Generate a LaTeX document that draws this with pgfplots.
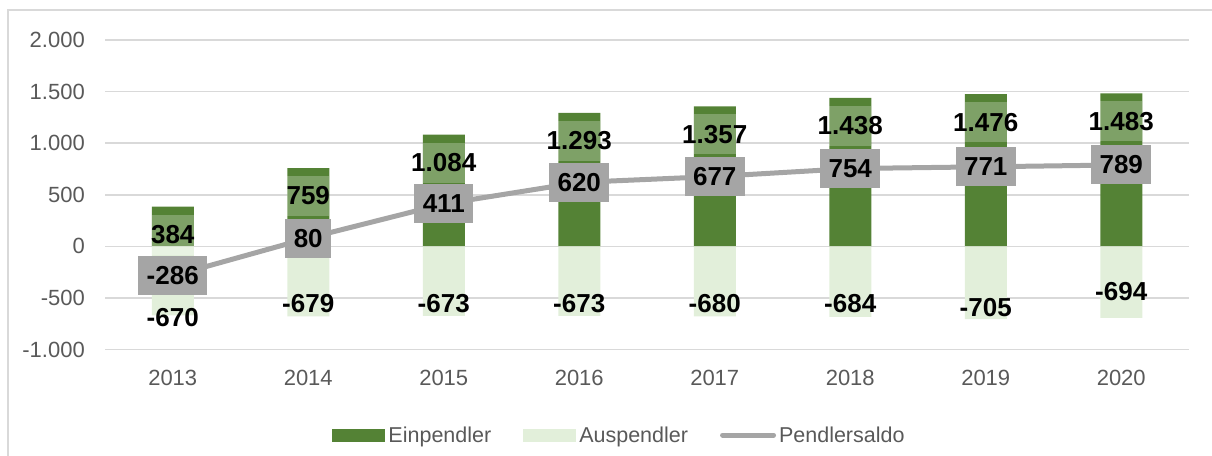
\documentclass[border=0pt]{standalone}
\usepackage{fontspec}
\setmainfont{Liberation Sans}
\usepackage{pgfplots}
\usepackage{pgfplotstable}
\pgfplotsset{compat=1.18}
\definecolor{eingreen}{HTML}{548235}
\definecolor{ausgreen}{HTML}{E2EFDA}
\definecolor{saldogray}{HTML}{A5A5A5}
\definecolor{gridgray}{HTML}{D9D9D9}
\definecolor{tickgray}{HTML}{595959}
\newcommand{\labelfont}{\fontsize{26}{28}\selectfont\bfseries}
\newcommand{\tickfont}{\fontsize{22}{24}\selectfont}
\newcommand{\legfont}{\fontsize{21.5}{23}\selectfont}
\pgfplotstableread{
x ein einlab aus auslab ausdy saldo
0 384 384 -670 -670 -2 -286
1 759 759 -679 -679 13 80
2 1084 1.084 -673 -673 12.5 411
3 1293 1.293 -673 -673 12 620
4 1357 1.357 -680 -680 13 677
5 1438 1.438 -684 -684 13 754
6 1476 1.476 -705 -705 12 771
7 1483 1.483 -694 -694 26 789
}\data
\begin{document}
\begin{tikzpicture}
\path[use as bounding box] (0pt,0pt) rectangle (1212pt,-455pt);
\draw[gridgray, line width=1.5pt] (8pt,-470pt) -- (8pt,-10pt) -- (1230pt,-10pt);
\begin{axis}[
  at={(105pt,-349.5pt)}, anchor=south west,
  scale only axis, width=1084pt, height=309.5pt,
  xmin=-0.5, xmax=7.5, ymin=-1000, ymax=2000,
  clip=false,
  axis line style={draw=none},
  tick style={draw=none},
  major tick length=0pt,
  ymajorgrids, grid style={gridgray, line width=1.5pt},
  xtick={0,...,7},
  xticklabels={2013,2014,2015,2016,2017,2018,2019,2020},
  ytick={-1000,-500,0,500,1000,1500,2000},
  yticklabels={-1.000,-500,0,500,1.000,1.500,2.000},
  xticklabel style={font=\tickfont, text=tickgray, anchor=north, inner sep=0pt, yshift=-20pt},
  yticklabel style={font=\tickfont, text=tickgray, anchor=east, inner sep=0pt, xshift=-20pt},
  legend columns=3,
  legend style={at={(0.4742,-0.2763)}, anchor=center, draw=none, fill=none,
    font=\legfont, text=tickgray,
    nodes={inner sep=1pt},
    /tikz/every odd column/.append style={column sep=2pt},
    /tikz/every even column/.append style={column sep=31pt}},
]
\addplot[ybar, bar width=42pt, bar shift=0pt, fill=eingreen, draw=none,
  legend image code/.code={\fill[eingreen] (0pt,-6.5pt) rectangle (53pt,6.5pt);},
  nodes near coords={\makebox[42pt]{\pgfplotspointmeta}},
  point meta=explicit symbolic,
  every node near coord/.style={anchor=center, yshift=-28pt, inner xsep=0pt, inner ysep=0pt,
    minimum height=40pt, fill=white, fill opacity=0.25, text opacity=1, font=\labelfont, text=black}]
  table[x=x, y=ein, meta=einlab] {\data};
\addlegendentry{Einpendler}
\addplot[ybar, bar width=42pt, bar shift=0pt, fill=ausgreen, draw=none,
  legend image code/.code={\fill[ausgreen] (0pt,-6.5pt) rectangle (53pt,6.5pt);},
  visualization depends on={\thisrow{ausdy} \as \ady},
  nodes near coords,
  point meta=explicit symbolic,
  every node near coord/.style={anchor=center, yshift=\ady, inner sep=0pt, font=\labelfont, text=black}]
  table[x=x, y=aus, meta=auslab] {\data};
\addlegendentry{Auspendler}
\addplot[saldogray, line width=5pt, line join=round, mark=none,
  legend image code/.code={\draw[saldogray, line width=5pt, line cap=round] (2.5pt,0pt) -- (53.5pt,0pt);},
  nodes near coords,
  point meta=explicit symbolic,
  every node near coord/.style={anchor=center, fill=saldogray, inner xsep=8.5pt, inner ysep=0pt,
    minimum height=39pt, font=\labelfont, text=black}]
  table[x=x, y=saldo, meta=saldo] {\data};
\addlegendentry{Pendlersaldo}
\end{axis}
\end{tikzpicture}
\end{document}
